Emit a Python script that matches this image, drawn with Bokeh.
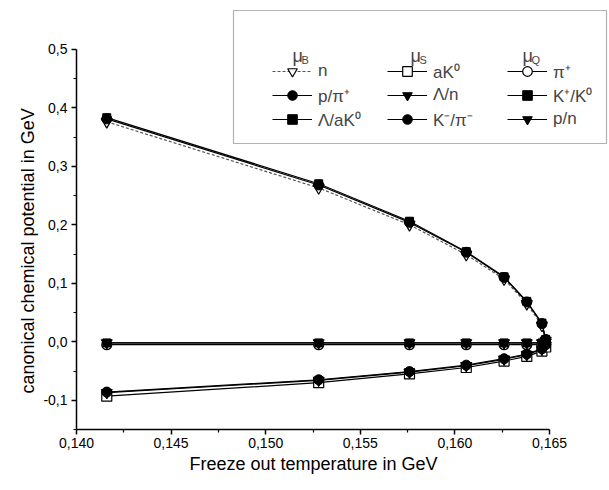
import math
from bokeh.plotting import figure
from bokeh.models import (Range1d, FixedTicker, CustomJSTickFormatter, Label,
                          BoxAnnotation, Legend, LegendItem, Title)
from bokeh.embed import file_html
from bokeh.resources import INLINE

# ---------------- data ----------------
T = [0.1416, 0.1528, 0.1576, 0.1606, 0.1626, 0.1638, 0.1646, 0.1648]

muB_n      = [0.376, 0.263, 0.200, 0.149, 0.107, 0.065, 0.028, 0.002]
muB_p_pi   = [0.381, 0.268, 0.204, 0.153, 0.110, 0.068, 0.031, 0.004]
muB_L_aK   = [0.383, 0.270, 0.206, 0.154, 0.111, 0.069, 0.032, 0.004]

muS_aK     = [-0.093, -0.070, -0.055, -0.044, -0.033, -0.025, -0.016, -0.009]
muS_L_n    = [-0.087, -0.066, -0.052, -0.041, -0.030, -0.022, -0.013, -0.006]
muS_K_pi   = [-0.086, -0.065, -0.051, -0.040, -0.029, -0.021, -0.012, -0.005]

muQ_pi     = [-0.005, -0.005, -0.005, -0.005, -0.005, -0.005, -0.005, -0.004]
muQ_K_K0   = [-0.002, -0.002, -0.002, -0.002, -0.002, -0.002, -0.002, -0.001]
muQ_p_n    = [-0.002, -0.002, -0.002, -0.002, -0.002, -0.002, -0.002, -0.001]

x_ticks = [0.140, 0.145, 0.150, 0.155, 0.160, 0.165]
x_minor = [0.1425, 0.1475, 0.1525, 0.1575, 0.1625]
y_ticks = [-0.1, 0.0, 0.1, 0.2, 0.3, 0.4, 0.5]
y_minor = [-0.15, -0.05, 0.05, 0.15, 0.25, 0.35, 0.45]

x_title = "Freeze out temperature in GeV"
y_title = "canonical chemical potential in GeV"
headers = [("μ", "B"), ("μ", "S"), ("μ", "Q")]

# ---------------- layout ----------------
W, H = 609, 490
FL, FR, FT, FB = 76, 609, 3, 429
PX_X = 18.92 / 0.001      # px per unit x
PX_Y = 585.0              # px per unit y
X0, Y0 = 0.140, -0.15
XEND = X0 + (FR - FL) / PX_X
YEND = Y0 + (FB - FT) / PX_Y

def px2x(px):
    return X0 + (px - FL) / PX_X

def px2y(py):
    return Y0 + (FB - py) / PX_Y

FONT = "Liberation Sans"

p = figure(width=W, height=H, output_backend="svg", toolbar_location=None,
           x_range=Range1d(X0, XEND), y_range=Range1d(Y0, YEND),
           min_border_left=FL, min_border_right=W - FR,
           min_border_top=FT, min_border_bottom=H - FB)
p.xgrid.visible = False
p.ygrid.visible = False
p.outline_line_color = None
p.background_fill_color = "white"
p.border_fill_color = "white"

for ax, ticks, minor, bounds, fmt in (
        (p.xaxis[0], x_ticks, x_minor, (0.140, 0.165), "return tick.toFixed(3).replace('.', ',')"),
        (p.yaxis[0], y_ticks, y_minor, (-0.15, 0.5), "return tick.toFixed(1).replace('.', ',')")):
    ax.ticker = FixedTicker(ticks=ticks, minor_ticks=minor)
    ax.formatter = CustomJSTickFormatter(code=fmt)
    ax.bounds = bounds
    ax.axis_line_width = 1.5
    ax.major_tick_line_width = 1.5
    ax.minor_tick_line_width = 1.2
    ax.major_tick_in = 0
    ax.major_tick_out = 5
    ax.minor_tick_in = 0
    ax.minor_tick_out = 3
    ax.major_label_text_font = FONT
    ax.major_label_text_font_size = "14px"
    ax.major_label_text_color = "black"
    ax.axis_line_color = "black"
    ax.major_tick_line_color = "black"
    ax.minor_tick_line_color = "black"
p.yaxis[0].major_label_standoff = 4
p.xaxis[0].major_label_standoff = 3

# axis titles as side-panel titles (placed with offsets)
p.add_layout(Title(text=y_title, align="left", offset=36, vertical_align="middle",
                   standoff=4, text_font=FONT, text_font_size="18px",
                   text_font_style="normal", text_color="black"), "left")
p.add_layout(Title(text=x_title, align="left", offset=113, vertical_align="middle",
                   standoff=4, text_font=FONT, text_font_size="18px",
                   text_font_style="normal", text_color="black"), "below")

# ---------------- series ----------------
series = [
    # label, values, marker, filled, dashed
    ("n",      muB_n,    "inverted_triangle", False, True),
    ("p/π⁺",   muB_p_pi, "circle",            True,  False),
    ("Λ/aK⁰",  muB_L_aK, "square",            True,  False),
    ("aK⁰",    muS_aK,   "square",            False, False),
    ("Λ/n",    muS_L_n,  "inverted_triangle", True,  False),
    ("K⁻/π⁻",  muS_K_pi, "circle",            True,  False),
    ("π⁺",     muQ_pi,   "circle",            False, False),
    ("K⁺/K⁰",  muQ_K_K0, "square",            True,  False),
    ("p/n",    muQ_p_n,  "inverted_triangle", True,  False),
]
msize = {"inverted_triangle": 11, "circle": 10, "square": 8}

lines = []
for name, vals, marker, filled, dashed in series:
    if dashed:
        r = p.line(T, vals, line_color="#555555", line_width=1.2, line_dash="3 2")
    else:
        r = p.line(T, vals, line_color="black", line_width=1.2)
    lines.append(r)

marks = [None] * len(series)
rank = {"square": 0, "inverted_triangle": 1, "circle": 2}
order = [i for i, s in enumerate(series) if not s[3]] + \
        sorted([i for i, s in enumerate(series) if s[3]], key=lambda i: rank[series[i][2]])
for i in order:
    name, vals, marker, filled, dashed = series[i]
    if filled:
        r = p.scatter(T, vals, marker=marker, size=msize[marker], fill_color="black",
                      line_color="black", line_width=1)
    else:
        r = p.scatter(T, vals, marker=marker, size=msize[marker] + (2 if marker == "square" else 0),
                      fill_color="white", line_color="black", line_width=1.2)
    marks[i] = r

# ---------------- legend ----------------
box = BoxAnnotation(left=px2x(233), right=px2x(606), top=px2y(10), bottom=px2y(143),
                    fill_alpha=0, line_color="black", line_width=1.2)
p.add_layout(box)

col_left = [272, 387, 507]
hdr_x = [292, 410, 522]
for c in range(3):
    items = []
    for k in range(3):
        i = c * 3 + k
        items.append(LegendItem(label=series[i][0], renderers=[lines[i], marks[i]]))
    leg = Legend(items=items, location=(col_left[c] - FL, FB - 131),
                 padding=0, margin=0, spacing=0, glyph_width=40, glyph_height=24,
                 label_height=24, label_standoff=6,
                 label_text_font=FONT, label_text_font_size="17px",
                 border_line_color=None, background_fill_alpha=0)
    p.add_layout(leg, "center")
    mu, sub = headers[c]
    p.add_layout(Label(x=px2x(hdr_x[c]), y=px2y(55), text=mu, text_font=FONT,
                       text_font_size="18px", text_align="left", text_baseline="alphabetic"))
    p.add_layout(Label(x=px2x(hdr_x[c] + 9), y=px2y(59), text=sub, text_font=FONT,
                       text_font_size="11px", text_align="left", text_baseline="alphabetic"))

open("out.html", "w").write(file_html(p, INLINE))
